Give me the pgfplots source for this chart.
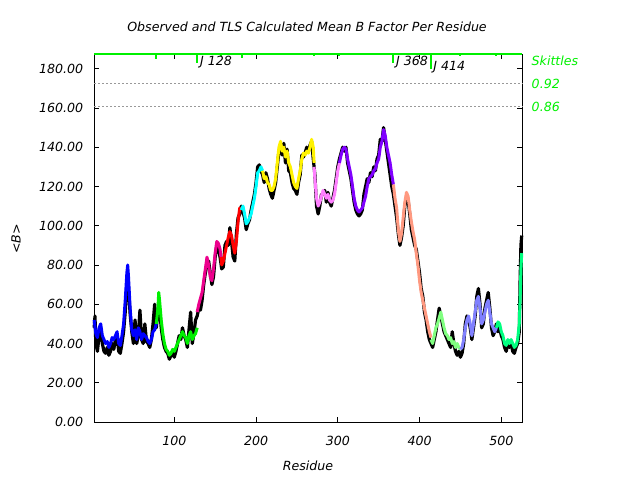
\documentclass[border=0pt]{standalone}
\usepackage{pgfplots}
\pgfplotsset{compat=1.18}
\usepackage{fontspec}
\setmainfont{DejaVu Sans}
\newcommand\f{\fontsize{12.6bp}{15bp}\selectfont\itshape}
\definecolor{gpgreen}{RGB}{0,240,0}
\definecolor{gpcyan}{RGB}{0,255,255}
\definecolor{gppink}{RGB}{255,128,255}
\definecolor{gppurple}{RGB}{128,0,255}
\definecolor{gpsalmon}{RGB}{255,153,128}
\definecolor{gplgreen}{RGB}{128,255,128}
\definecolor{gplav}{RGB}{128,128,255}
\definecolor{gpspring}{RGB}{0,255,128}
\begin{document}
\begin{tikzpicture}
\useasboundingbox (0,0) rectangle (640bp,480bp);
\node[font=\f] at (307bp,453bp) {Observed and TLS Calculated Mean B Factor Per Residue};
\node[font=\f] at (308bp,14bp) {Residue};
\node[font=\f, rotate=90] at (16bp,241bp) {<B>};
\begin{axis}[
  at={(94bp,58bp)}, anchor=south west,
  scale only axis, width=428.3bp, height=368bp,
  xmin=1.8, xmax=525.7, ymin=0, ymax=187.5,
  xtick={100,200,300,400,500},
  ytick={0,20,...,180},
  tick align=inside, major tick length=5bp,
  tick style={black, line width=0.6bp},
  axis line style={line width=0.8bp},
  clip=false,
  style={/pgf/number format/assume math mode=true},
  ticklabel style={font=\f},
  yticklabel style={/pgf/number format/fixed, /pgf/number format/zerofill, /pgf/number format/precision=2},
  yticklabel style={anchor=east, inner sep=0pt, xshift=-10.7bp},
  xticklabel style={anchor=north, inner sep=0pt, yshift=-14bp},
  unbounded coords=jump,
  every axis plot/.append style={line join=round},
]
% observed
\addplot[black, line width=3.2bp] coordinates {
(2,48)(3,54)(4,40)(6,36)(8,44)(10,47)(12,40)(14,36)(16,35)(18,38)(20,34)(22,36)(24,40)(26,37)(28,42)(30,44)(32,36)(34,35)(36,40)(38,46)(40,56)(42,70)(43,76)(44,68)(46,55)(48,46)(50,40)(52,52)(54,40)(56,44)(58,57)(60,42)(62,40)(64,50)(66,41)(68,40)(70,38)(72,42)(74,50)(76,60)(78,48)(80,56)(82,58)(84,48)(86,42)(88,38)(90,36)(92,35)(94,32)(96,34)(98,36)(100,33)(102,36)(104,40)(106,44)(108,42)(110,48)(112,44)(114,42)(116,38)(118,47)(120,56)(122,40)(124,45)(126,52)(128,54)(130,58)(132,57)(134,62)(136,70)(138,76)(140,80)(142,82)(144,76)(146,70)(148,74)(150,84)(152,90)(154,88)(156,84)(158,78)(160,79)(162,90)(164,92)(166,90)(168,99)(170,92)(172,84)(174,82)(176,96)(178,104)(180,106)(182,110)(184,107)(186,104)(188,98)(190,101)(192,103)(194,108)(196,112)(198,116)(200,122)(202,130)(204,131)(206,128)(208,126)(210,122)(212,127)(214,124)(216,119)(218,116)(220,114)(222,118)(224,122)(226,130)(228,138)(230,141)(232,136)(234,142)(236,132)(238,139)(240,128)(242,127)(244,122)(246,119)(248,118)(250,116)(252,122)(254,126)(256,136)(258,135)(260,137)(262,140)(264,138)(266,141)(268,143)(270,134)(272,126)(274,110)(276,106)(278,110)(280,116)(282,116)(284,118)(286,112)(288,117)(290,112)(292,110)(294,114)(296,118)(298,124)(300,130)(302,134)(304,137)(306,140)(308,138)(310,140)(312,132)(314,128)(316,124)(318,118)(320,112)(322,108)(324,106)(326,105)(328,106)(330,108)(332,116)(334,120)(336,124)(338,122)(340,127)(342,125)(344,130)(346,128)(348,134)(350,136)(352,144)(354,143)(356,150)(358,144)(360,138)(362,132)(364,126)(366,120)(368,116)(370,110)(372,104)(374,96)(376,90)(378,94)(380,100)(382,110)(384,114)(386,113)(388,106)(390,98)(392,94)(394,90)(396,88)(398,82)(400,76)(402,68)(404,64)(406,56)(408,52)(410,46)(412,42)(414,40)(416,38)(418,42)(420,46)(422,52)(424,58)(426,54)(428,50)(430,46)(432,44)(434,42)(436,40)(438,38)(440,46)(442,40)(444,36)(446,34)(448,36)(450,33)(452,35)(454,40)(456,50)(458,54)(460,52)(462,48)(464,42)(466,48)(468,54)(470,64)(472,68)(474,60)(476,48)(478,50)(480,58)(482,62)(484,66)(486,58)(488,48)(490,44)(492,46)(494,50)(496,46)(498,48)(500,44)(502,42)(504,38)(506,36)(508,40)(510,38)(512,40)(514,36)(516,35)(518,38)(520,40)(522,46)(523,72)(524,90)(525,95)
};
% TLS calculated, one segment per group
\addplot[blue, line width=3bp] coordinates {
(2,52)(4,45)(6,43)(8,48)(10,50)(12,44)(14,42)(16,40)(18,41)(20,38)(22,40)(24,43)(26,42)(28,44)(30,46)(32,40)(34,39)(36,44)(38,50)(40,62)(42,76)(43,80)(44,74)(46,58)(48,47)(50,44)(52,47)(54,42)(56,48)(58,46)(60,42)(62,45)(64,44)(66,43)(68,41)(70,40)(72,42)(74,46)(76,47)(78,50)
};
\addplot[gpgreen, line width=3bp] coordinates {
(78,50)(80,58)(81,66)(82,62)(84,52)(86,45)(88,40)(90,37)(92,36)(94,34)(96,35)(98,37)(100,36)(102,38)(104,40)(106,42)(108,44)(110,46)(112,44)(114,43)(116,40)(118,44)(120,46)(122,42)(124,44)(126,45)(128,48)
};
\addplot[magenta, line width=3bp] coordinates {
(128,56)(130,60)(132,63)(134,66)(136,72)(138,78)(140,84)(142,80)(144,74)(146,72)(148,78)(150,86)(152,92)(154,91)(156,88)(157,84)
};
\addplot[red, line width=3bp] coordinates {
(157,84)(158,80)(160,82)(162,86)(164,90)(166,94)(168,97)(170,95)(172,90)(174,86)(176,92)(178,102)(180,109)(182,108)
};
\addplot[gpcyan, line width=3bp] coordinates {
(182,108)(184,110)(186,106)(188,101)(190,102)(192,104)(194,106)(196,110)(198,114)(200,120)(202,127)(204,128)(206,130)(208,128)
};
\addplot[yellow, line width=3bp] coordinates {
(208,128)(210,124)(212,125)(214,122)(216,121)(218,118)(220,118)(222,120)(224,124)(226,132)(228,140)(230,143)(232,138)(234,140)(236,135)(238,138)(240,132)(242,130)(244,126)(246,122)(248,120)(250,119)(252,124)(254,128)(256,134)(258,137)(260,136)(262,138)(264,137)(266,140)(268,144)(270,140)(271,132)
};
\addplot[gppink, line width=3bp] coordinates {
(271,130)(272,124)(274,114)(276,110)(278,112)(280,115)(282,118)(284,116)(286,114)(288,116)(290,113)(292,112)(294,113)(296,116)(298,122)(300,128)(302,132)
};
\addplot[gppurple, line width=3bp] coordinates {
(302,132)(304,136)(306,139)(308,140)(310,139)(312,134)(314,130)(316,126)(318,120)(320,114)(322,110)(324,108)(326,107)(328,108)(330,109)(332,112)(334,115)(336,120)(338,124)(340,125)(342,126)(344,128)(346,129)(348,132)(350,134)(352,140)(354,143)(356,149)(358,146)(360,140)(362,136)(364,132)(366,126)(368,121)
};
\addplot[gpsalmon, line width=3bp] coordinates {
(368,121)(370,114)(372,109)(374,98)(376,92)(378,96)(380,104)(382,112)(384,117)(386,115)(388,108)(390,102)(392,97)(394,93)(396,86)(398,80)(400,72)(402,66)(404,62)(406,58)(408,54)(410,50)(412,46)(414,43)
};
\addplot[gplgreen, line width=3bp] coordinates {
(414,42)(416,40)(418,44)(420,48)(422,50)(424,53)(426,56)(428,52)(430,48)(432,45)(434,44)(436,42)(438,43)(440,40)(442,41)(444,38)(446,40)(448,38)(450,37)
};
\addplot[gplav, line width=3bp] coordinates {
(450,37)(452,38)(454,42)(456,48)(458,52)(460,54)(462,50)(464,44)(466,50)(468,56)(470,62)(472,64)(474,58)(476,50)(478,52)(480,56)(482,60)(484,62)(486,56)(488,50)(490,48)(492,46)(494,48)
};
\addplot[gpspring, line width=3bp] coordinates {
(494,48)(496,51)(498,50)(500,46)(502,44)(504,40)(506,39)(508,42)(510,40)(512,42)(514,40)(516,38)(518,39)(520,42)(522,50)(523,62)(524,78)(525,86)
};
% skittles reference lines
\addplot[gray!80, dash pattern=on 2bp off 2bp, line width=0.6bp] coordinates {(1.8,172.5)(525.7,172.5)};
\addplot[gray!80, dash pattern=on 2bp off 2bp, line width=0.6bp] coordinates {(1.8,160.6)(525.7,160.6)};
% skittles top line and ticks
\addplot[gpgreen, line width=2bp] coordinates {(1.8,187.5)(525.7,187.5)};
\addplot[gpgreen, line width=2bp] coordinates {
(78,187.5)(78,184.7)(78,nan)
(128,187.5)(128,182.7)(128,nan)
(157,187.5)(157,186.5)(157,nan)
(183,187.5)(183,185.7)(183,nan)
(271,187.5)(271,186.7)(271,nan)
(302,187.5)(302,186.7)(302,nan)
(368,187.5)(368,182.7)(368,nan)
(414,187.5)(414,179.9)(414,nan)
(450,187.5)(450,186.7)(450,nan)
(494,187.5)(494,186.7)
};
\node[font=\f, anchor=west, inner sep=0pt] at (axis cs:131.4,183.4) {J 128};
\node[font=\f, anchor=west, inner sep=0pt] at (axis cs:371.2,183.4) {J 368};
\node[font=\f, anchor=west, inner sep=0pt] at (axis cs:416.8,181) {J 414};
\node[font=\f, text=gpgreen, anchor=west, inner sep=0pt] at (axis cs:537,183.9) {Skittles};
\node[font=\f, text=gpgreen, anchor=west, inner sep=0pt] at (axis cs:537,172.5) {0.92};
\node[font=\f, text=gpgreen, anchor=west, inner sep=0pt] at (axis cs:537,160.6) {0.86};
\end{axis}
\end{tikzpicture}
\end{document}
